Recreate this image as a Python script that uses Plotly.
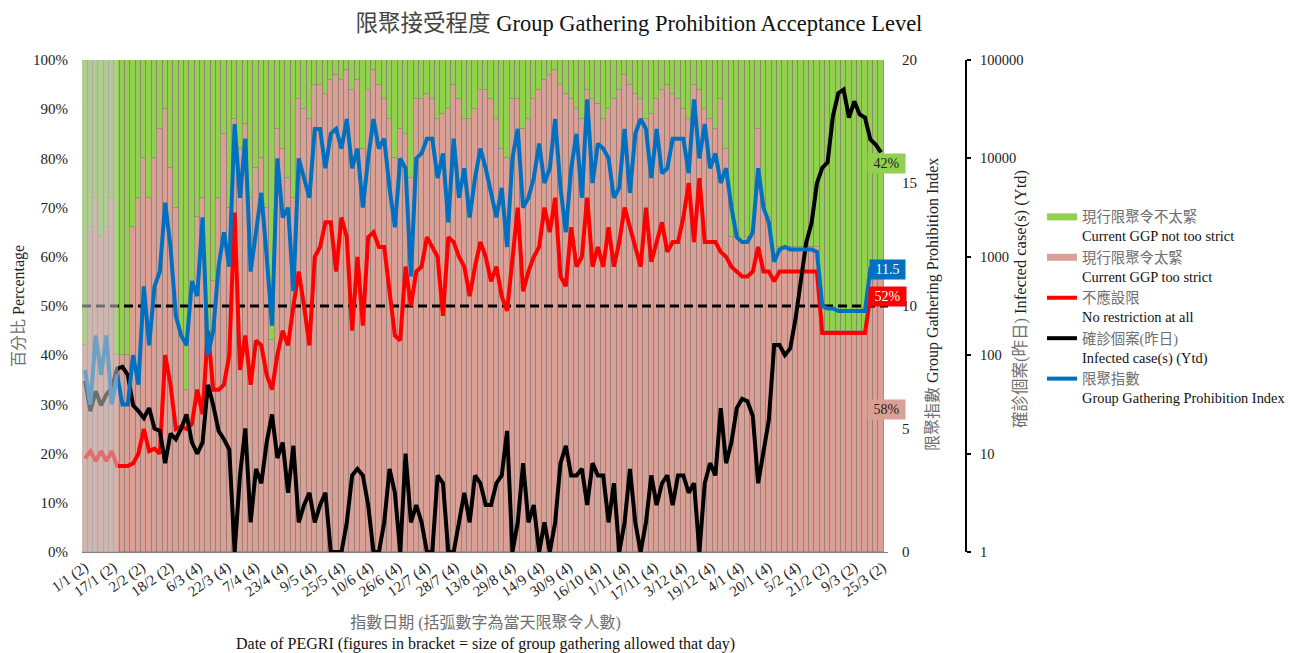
import plotly.graph_objects as go
from datetime import date, timedelta

# ---------------- data (sampled every 3 days from 1/1/2021) ----------------
start_day = date(2021, 1, 1)
step_days = 3
dates = [(start_day + timedelta(days=step_days * i)).isoformat() for i in range(150)]

tick_dates = [(start_day + timedelta(days=16 * i)).isoformat() for i in range(29)]
tick_labels = ["1/1 (2)", "17/1 (2)", "2/2 (2)", "18/2 (2)", "6/3 (4)", "22/3 (4)", "7/4 (4)",
               "23/4 (4)", "9/5 (4)", "25/5 (4)", "10/6 (4)", "26/6 (4)", "12/7 (4)", "28/7 (4)",
               "13/8 (4)", "29/8 (4)", "14/9 (4)", "30/9 (4)", "16/10 (4)", "1/11 (4)", "17/11 (4)",
               "3/12 (4)", "19/12 (4)", "4/1 (4)", "20/1 (4)", "5/2 (4)", "21/2 (2)", "9/3 (2)", "25/3 (2)"]
pct_ticks = [0, 10, 20, 30, 40, 50, 60, 70, 80, 90, 100]
pct_labels = ["0%", "10%", "20%", "30%", "40%", "50%", "60%", "70%", "80%", "90%", "100%"]
ggp_ticks = [0, 5, 10, 15, 20]
case_ticks = [1, 10, 100, 1000, 10000, 100000]
case_labels = ["1", "10", "100", "1000", "10000", "100000"]

# 現行限聚令太緊 Current GGP too strict (%)
too_strict = [42, 66, 72, 64, 66, 72, 40, 40, 40, 66,
              72, 80, 72, 80, 86, 90, 78, 70, 45, 33,
              55, 68, 72, 40, 55, 72, 85, 70, 88, 82,
              87, 72, 78, 80, 70, 43, 86, 82, 76, 72,
              92, 90, 88, 95, 95, 93, 96, 97, 96, 98,
              94, 96, 82, 94, 98, 95, 92, 88, 80, 86,
              85, 76, 92, 92, 93, 92, 88, 89, 90, 95,
              92, 88, 88, 90, 94, 94, 92, 88, 82, 80,
              92, 92, 86, 88, 92, 94, 96, 97, 98, 95,
              93, 92, 90, 88, 94, 92, 91, 88, 90, 92,
              94, 97, 95, 93, 92, 88, 89, 92, 94, 95,
              93, 92, 90, 88, 95, 94, 90, 88, 86, 92,
              82, 64, 64, 63, 64, 65, 86, 72, 68, 60,
              62, 62, 62, 62, 62, 62, 62, 62, 45, 45,
              45, 45, 45, 45, 45, 45, 45, 58, 58, 58]

# 現行限聚令不太緊 Current GGP not too strict (%)
not_strict = [58, 34, 28, 36, 34, 28, 60, 60, 60, 34,
              28, 20, 28, 20, 14, 10, 22, 30, 55, 67,
              45, 32, 28, 60, 45, 28, 15, 30, 12, 18,
              13, 28, 22, 20, 30, 57, 14, 18, 24, 28,
              8, 10, 12, 5, 5, 7, 4, 3, 4, 2,
              6, 4, 18, 6, 2, 5, 8, 12, 20, 14,
              15, 24, 8, 8, 7, 8, 12, 11, 10, 5,
              8, 12, 12, 10, 6, 6, 8, 12, 18, 20,
              8, 8, 14, 12, 8, 6, 4, 3, 2, 5,
              7, 8, 10, 12, 6, 8, 9, 12, 10, 8,
              6, 3, 5, 7, 8, 12, 11, 8, 6, 5,
              7, 8, 10, 12, 5, 6, 10, 12, 14, 8,
              18, 36, 36, 37, 36, 35, 14, 28, 32, 40,
              38, 38, 38, 38, 38, 38, 38, 38, 55, 55,
              55, 55, 55, 55, 55, 55, 55, 42, 42, 42]

# 不應設限 No restriction at all (%)
no_restriction = [19, 20.5, 18.5, 20.5, 18.5, 20.5, 17.5, 17.5, 17.5, 18,
                  20, 25, 20.5, 21, 20, 40, 34, 25, 25.5, 25,
                  26, 33, 28, 45, 33, 33, 34, 40, 69, 37,
                  44, 34, 43, 42, 36, 33, 40, 45, 42, 50,
                  57, 50, 42, 60, 62, 67, 67, 57, 68, 64,
                  45, 60, 46, 64, 65, 62, 62, 53, 44, 43,
                  58, 50, 57, 58, 64, 62, 60, 48, 64, 63,
                  60, 58, 52, 58, 63, 60, 55, 58, 52, 49,
                  60, 70, 53, 57, 60, 62, 70, 65, 72, 56,
                  54, 66, 58, 60, 72, 58, 62, 58, 66, 58,
                  63, 70, 66, 62, 58, 70, 59, 63, 67, 61,
                  63, 63, 68, 75, 63, 76, 63, 63, 63, 61,
                  60, 58, 57, 56, 56, 57, 62, 57, 57, 55,
                  57, 57, 57, 57, 57, 57, 57, 57, 44.5, 44.5,
                  44.5, 44.5, 44.5, 44.5, 44.5, 44.5, 44.5, 52, 52, 52]

# 確診個案(昨日) Infected case(s) (Ytd)
cases = [55, 27, 43, 31, 40, 46, 73, 76, 63, 31,
         27, 23, 29, 18, 17, 8, 16, 14, 18, 25,
         13, 10, 13, 50, 31, 17, 14, 11, 1, 6,
         18, 2, 7, 5, 13, 25, 9, 13, 4, 12,
         2, 3, 4, 2, 3, 4, 1, 1, 1, 2,
         6, 7, 6, 3, 1, 1, 2, 7, 4, 1,
         10, 2, 3, 2, 1, 1, 6, 5, 1, 1,
         2, 4, 2, 6, 5, 3, 3, 5, 6, 17,
         1, 2, 8, 2, 3, 1, 2, 1, 2, 8,
         12, 6, 6, 7, 3, 8, 6, 6, 2, 5,
         1, 2, 7, 2, 1, 2, 6, 3, 5, 6,
         3, 6, 6, 4, 5, 1, 5, 8, 6, 29,
         8, 13, 29, 36, 34, 24, 5, 11, 22, 127,
         127, 100, 117, 235, 550, 1400, 2200, 5600, 8000, 9100,
         27000, 46000, 50000, 26000, 38000, 28000, 26000, 15600, 13800, 11500]

# 限聚指數 Group Gathering Prohibition Index
ggp_index = [7.4, 6.0, 8.8, 7.2, 8.8, 6.0, 7.2, 6.0, 6.0, 8.0,
             6.8, 10.8, 8.4, 10.8, 11.4, 14.2, 12.4, 9.6, 8.8, 8.4,
             11.0, 10.4, 13.6, 8.0, 9.0, 11.6, 13.0, 11.6, 17.4, 14.4,
             16.8, 11.4, 13.0, 14.6, 12.0, 9.2, 16.0, 13.6, 14.0, 10.6,
             16.0, 15.2, 14.4, 17.2, 17.2, 15.6, 17.0, 17.2, 16.4, 17.6,
             15.6, 16.4, 14.0, 16.0, 17.6, 16.4, 16.8, 14.8, 13.2, 16.0,
             15.6, 11.2, 16.0, 16.2, 16.8, 16.8, 15.2, 16.2, 13.4, 16.8,
             14.4, 15.6, 13.6, 15.2, 16.4, 15.6, 14.6, 13.6, 14.8, 12.4,
             16.0, 17.2, 14.0, 14.4, 15.2, 16.6, 15.0, 15.6, 17.6, 14.8,
             13.0, 15.6, 17.0, 14.4, 18.4, 15.0, 16.6, 16.4, 16.0, 14.4,
             14.8, 17.2, 14.6, 17.0, 17.6, 17.2, 15.2, 17.2, 15.4, 15.6,
             16.8, 16.8, 16.8, 15.4, 18.4, 16.0, 17.4, 15.6, 16.2, 15.0,
             15.6, 14.0, 12.8, 12.6, 12.6, 13.0, 15.6, 14.0, 13.4, 11.8,
             12.3, 12.4, 12.3, 12.3, 12.3, 12.3, 12.3, 12.2, 10.0, 9.9,
             9.9, 9.8, 9.8, 9.8, 9.8, 9.8, 9.8, 11.5, 11.5, 11.5]

acceptance_line = [50, 50]          # 50% reference line
x_range = ["2020-12-30 07:00", "2022-03-27 22:00"]
grey_period_end = "2021-01-19 12:00"

# ---------------- styling ----------------
SERIF = "'Liberation Serif', 'Times New Roman', 'Noto Sans CJK TC', serif"
ZH = "#6f6f6f"
GREEN = "#92D050"
PINK = "#DAA096"
RED = "#FF0000"
BLUE = "#0070C0"
STRIPE = "rgba(140,122,118,0.6)"

W, H = 1290, 653
ML, MT, MB = 82, 60, 101
PW = W - ML
PH = H - MT - MB
def px_x(p):
    return (p - ML) / PW
def px_y(p):
    return (H - MB - p) / PH

bar_w = step_days * 86400000

fig = go.Figure()
fig.add_bar(x=dates, y=too_strict, width=bar_w, marker=dict(color=PINK, line=dict(color=STRIPE, width=1)),
            showlegend=False, name="too strict")
fig.add_bar(x=dates, y=not_strict, width=bar_w, marker=dict(color=GREEN, line=dict(color=STRIPE, width=1)),
            showlegend=False, name="not too strict")
fig.add_scatter(x=x_range, y=acceptance_line, mode="lines", line=dict(color="black", width=3, dash="9px,5px"),
                showlegend=False, hoverinfo="skip")

def zh_en(zh, en):
    return f"<span style='color:{ZH}'>{zh}</span><br>{en}"

# legend-only entries (wide rectangle symbols like the original)
fig.add_scatter(x=[None], y=[None], mode="lines", line=dict(color=GREEN, width=7),
                name=zh_en("現行限聚令不太緊", "Current GGP not too strict"))
fig.add_scatter(x=[None], y=[None], mode="lines", line=dict(color=PINK, width=7),
                name=zh_en("現行限聚令太緊", "Current GGP too strict"))

fig.add_scatter(x=dates, y=no_restriction, mode="lines", line=dict(color=RED, width=4),
                name=zh_en("不應設限", "No restriction at all"))
fig.add_scatter(x=dates, y=cases, mode="lines", yaxis="y2", line=dict(color="black", width=4),
                name=zh_en("確診個案(昨日)", "Infected case(s) (Ytd)"))
fig.add_scatter(x=dates, y=ggp_index, mode="lines", yaxis="y3", line=dict(color=BLUE, width=4),
                name=zh_en("限聚指數", "Group Gathering Prohibition Index"))

xdom_end = px_x(888)
fig.update_layout(
    width=W, height=H,
    margin=dict(l=ML, r=0, t=MT, b=MB, pad=0, autoexpand=False),
    paper_bgcolor="white", plot_bgcolor="white",
    barmode="stack", bargap=0,
    font=dict(family=SERIF, size=14, color="#222"),
    title=dict(text=f"<span style='color:#444'>限聚接受程度</span> Group Gathering Prohibition Acceptance Level",
               xref="container", x=639 / W, xanchor="center", yref="container", y=1 - 23 / H, yanchor="middle",
               font=dict(family=SERIF, size=22.5, color="#111")),
    xaxis=dict(type="date", range=x_range, domain=[0, xdom_end], tickmode="array", tickvals=tick_dates,
               ticktext=tick_labels, tickangle=-35, tickfont=dict(size=15, color="#222"), showgrid=False,
               showline=True, linecolor="#7f7f7f", linewidth=1, ticks="", zeroline=False),
    yaxis=dict(range=[0, 100], tickmode="array", tickvals=pct_ticks, ticktext=pct_labels,
               showgrid=False, zeroline=False, ticks="outside", ticklen=10, tickcolor="rgba(0,0,0,0)",
               tickfont=dict(size=15, color="#222")),
    yaxis2=dict(type="log", range=[0, 5], overlaying="y", side="right", anchor="free", position=px_x(966),
                tickmode="array", tickvals=case_ticks, ticktext=case_labels, showgrid=False, zeroline=False,
                showline=True, linecolor="black", linewidth=2, ticks="outside", ticklen=4, tickwidth=2,
                tickcolor="black", ticklabelstandoff=6, tickfont=dict(size=14.5, color="#222")),
    yaxis3=dict(range=[0, 20], overlaying="y", side="right", anchor="x", tickmode="array",
                tickvals=ggp_ticks, showgrid=False, zeroline=False, ticks="outside", ticklen=10,
                tickcolor="rgba(0,0,0,0)", tickfont=dict(size=15, color="#222")),
    legend=dict(xref="container", yref="container", x=1042 / W, y=1 - 201 / H, xanchor="left", yanchor="top",
                bgcolor="rgba(0,0,0,0)", font=dict(family=SERIF, size=14.4, color="#111"), valign="top",
                itemwidth=30, tracegroupgap=0, traceorder="normal"),
    shapes=[dict(type="rect", xref="x", yref="paper", x0=x_range[0], x1=grey_period_end, y0=0, y1=1,
                 fillcolor="rgba(200,200,200,0.55)", line=dict(width=0), layer="above")],
)

annotations = [
    dict(x=px_x(19), y=px_y(306), xref="paper", yref="paper", xanchor="center", yanchor="middle",
         textangle=-90, showarrow=False,
         text=f"<span style='color:{ZH}'>百分比</span> Percentage", font=dict(size=16, color="#222")),
    dict(x=px_x(933), y=px_y(305), xref="paper", yref="paper", xanchor="center", yanchor="middle",
         textangle=-90, showarrow=False,
         text=f"<span style='color:{ZH}'>限聚指數</span> Group Gathering Prohibition Index",
         font=dict(size=16, color="#222")),
    dict(x=px_x(1020), y=px_y(299), xref="paper", yref="paper", xanchor="center", yanchor="middle",
         textangle=-90, showarrow=False,
         text=f"<span style='color:{ZH}'>確診個案(昨日)</span> Infected case(s) (Ytd)",
         font=dict(size=16.5, color="#222")),
    dict(x=px_x(485), y=px_y(633), xref="paper", yref="paper", xanchor="center", yanchor="middle",
         showarrow=False,
         text=f"<span style='color:{ZH}'>指數日期 (括弧數字為當天限聚令人數)</span><br>Date of PEGRI (figures in bracket = size of group gathering allowed that day)",
         font=dict(size=16, color="#111")),
    # end-value labels
    dict(x=dates[-1], y=too_strict[-1] + not_strict[-1] / 2, xref="x", yref="y", xshift=5, showarrow=False,
         text=f"&nbsp;{not_strict[-1]}%&nbsp;", bgcolor=GREEN, borderpad=2, font=dict(size=14, color="#222")),
    dict(x=dates[-1], y=ggp_index[-1], xref="x", yref="y3", xshift=6, showarrow=False,
         text=f"&nbsp;{ggp_index[-1]}&nbsp;", bgcolor=BLUE, borderpad=2, font=dict(size=14, color="white")),
    dict(x=dates[-1], y=no_restriction[-1], xref="x", yref="y", xshift=6, showarrow=False,
         text=f"&nbsp;{no_restriction[-1]:g}%&nbsp;", bgcolor=RED, borderpad=2, font=dict(size=14, color="white")),
    dict(x=dates[-1], y=too_strict[-1] / 2, xref="x", yref="y", xshift=5, showarrow=False,
         text=f"&nbsp;{too_strict[-1]}%&nbsp;", bgcolor=PINK, borderpad=2, font=dict(size=14, color="#222")),
]
fig.update_layout(annotations=annotations)

fig.write_html("out.html", config={"displayModeBar": False},
               post_script="document.body.style.margin='0px';")
